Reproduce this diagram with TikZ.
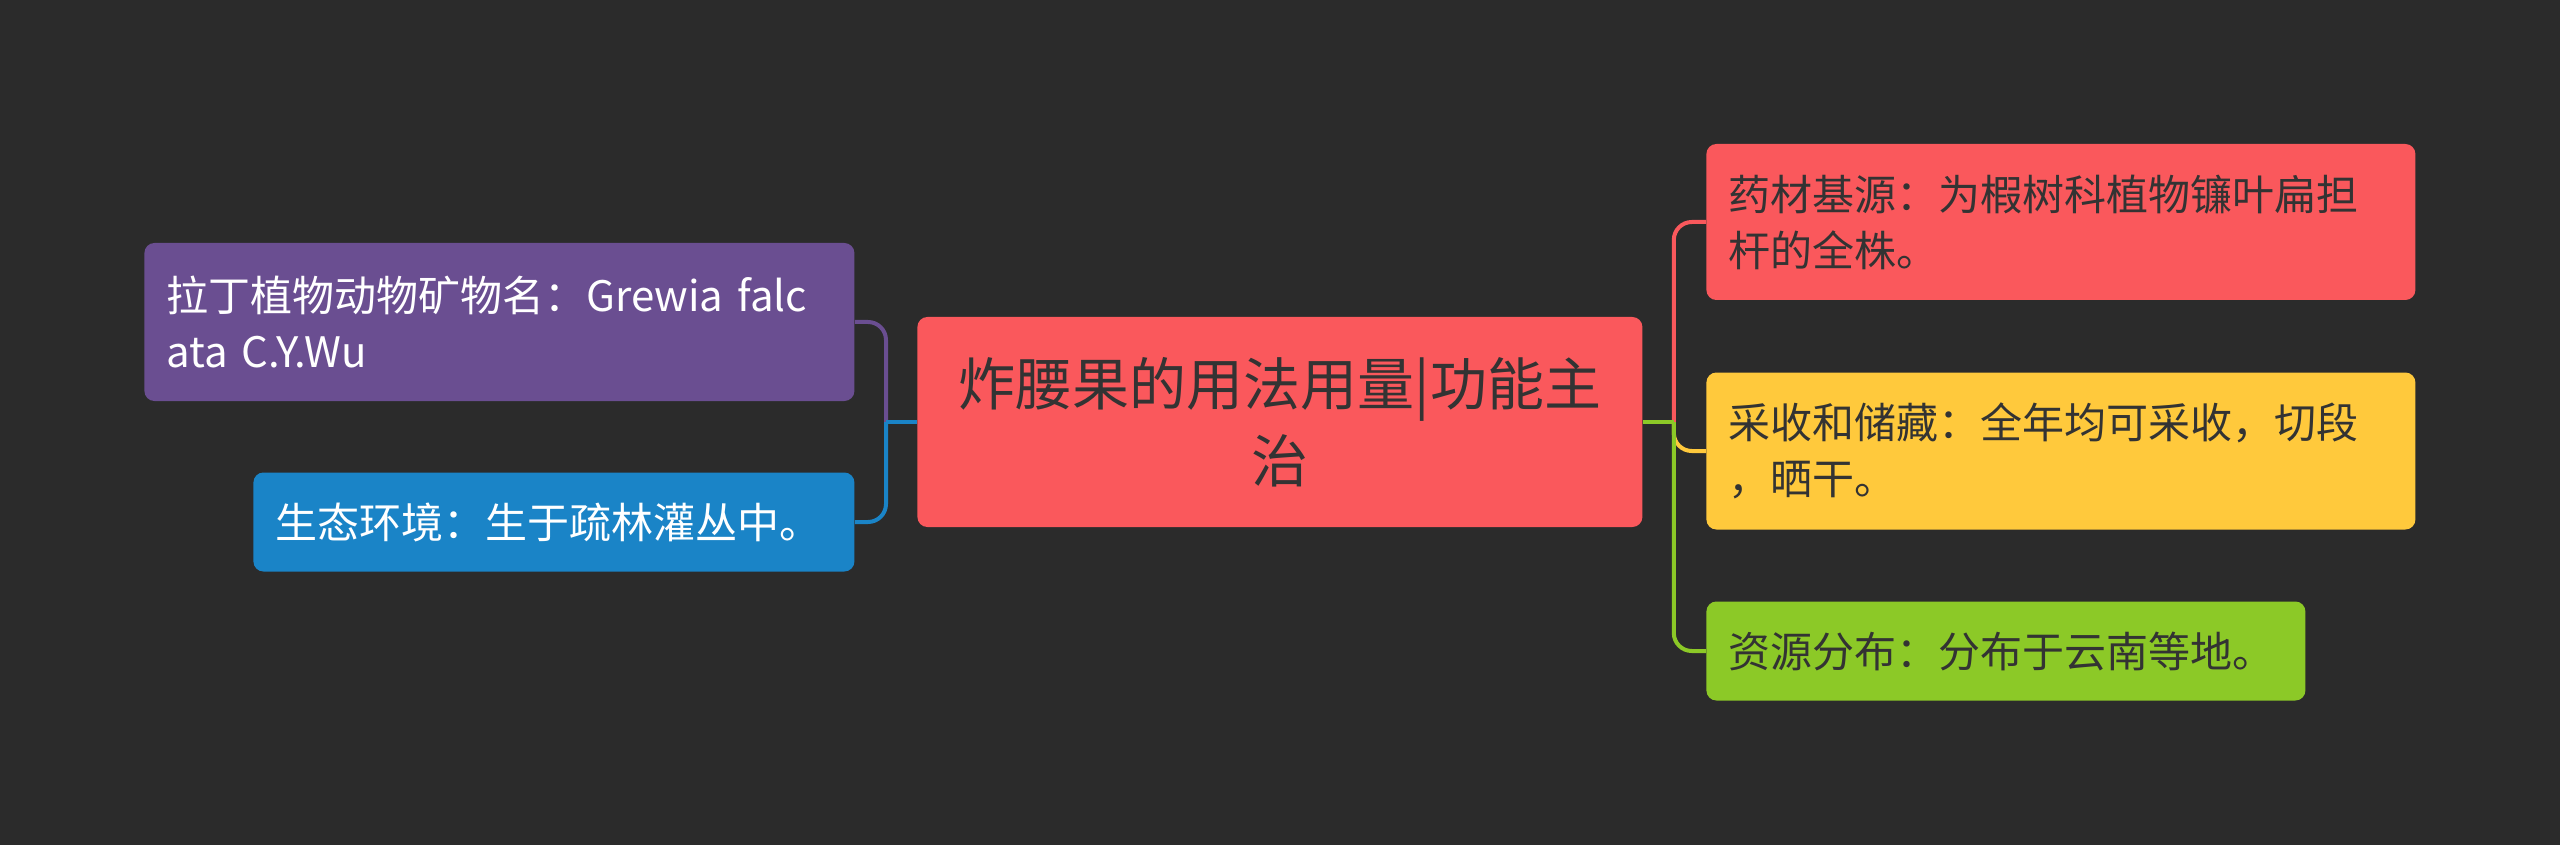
\documentclass[tikz,border=0pt]{standalone}
\usepackage{fontspec}
\setmainfont{Noto Sans CJK SC}
\usepackage{xcolor}
\usepackage{tikz}
\usetikzlibrary{positioning}

\definecolor{bgc}{HTML}{2B2B2B}
\definecolor{rootc}{HTML}{FA585C}
\definecolor{latinc}{HTML}{6A4E91}
\definecolor{habitatc}{HTML}{1A84C7}
\definecolor{sourcec}{HTML}{FA585C}
\definecolor{harvestc}{HTML}{FFC93C}
\definecolor{distribc}{HTML}{8CC927}
\definecolor{darktext}{HTML}{333333}

\begin{document}
\begin{tikzpicture}[
    x=0.5pt, y=-0.5pt,
    box/.style={rectangle, rounded corners=5pt, inner xsep=11pt, inner ysep=2pt, align=left, anchor=west, font=\fontsize{21}{28}\selectfont},
    topic/.style={rectangle, rounded corners=5pt, fill=rootc, text=darktext, inner xsep=11pt, align=center, anchor=west, text width=340.5pt, minimum height=105pt, font=\fontsize{28.5}{38.5}\selectfont},
    branch/.style={line width=2pt, rounded corners=9pt}
]

% Background
\fill[bgc] (0,0) rectangle (2560,845);

% Nodes
\node[topic] (root) at (917,422) {炸腰果的用法用量|功能主\\治};
\node[box, fill=latinc, text=white, text width=333pt, minimum height=79pt] (latin) at (144,322) {拉丁植物动物矿物名：Grewia falc\\ata C.Y.Wu};
\node[box, fill=habitatc, text=white, text width=278.5pt, minimum height=49.5pt] (habitat) at (253,522) {生态环境：生于疏林灌丛中。};
\node[box, fill=sourcec, text=darktext, text width=332.5pt, minimum height=78pt] (source) at (1706,222) {药材基源：为椵树科植物镰叶扁担\\杆的全株。};
\node[box, fill=harvestc, text=darktext, text width=332.5pt, minimum height=78.5pt] (harvest) at (1706,451) {采收和储藏：全年均可采收，切段\\，晒干。};
\node[box, fill=distribc, text=darktext, text width=277.5pt, minimum height=49.5pt] (distrib) at (1706,651) {资源分布：分布于云南等地。};

% Bus points
\coordinate[left=15.5pt of root.west] (lbus);
\coordinate[right=15.5pt of root.east] (rbus);

% Connectors
\draw[branch, latinc] (lbus) |- (latin.east);
\draw[branch, habitatc] (lbus) |- (habitat.east);
\draw[branch, habitatc] (root.west) -- (lbus);
\draw[branch, sourcec] (rbus) |- (source.west);
\draw[branch, harvestc] (rbus) |- (harvest.west);
\draw[branch, distribc] (rbus) |- (distrib.west);
\draw[branch, distribc] (root.east) -- (rbus);

\end{tikzpicture}
\end{document}
